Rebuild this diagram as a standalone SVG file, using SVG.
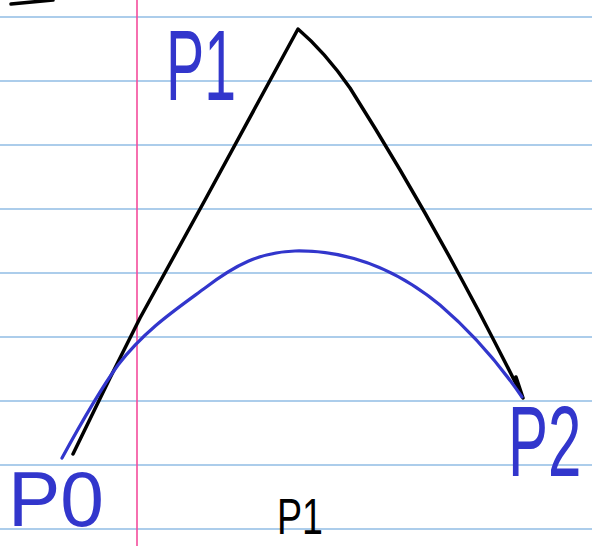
<svg xmlns="http://www.w3.org/2000/svg" width="592" height="546" viewBox="0 0 592 546">
<style>
.rule{stroke:#5b9bd8;stroke-width:1.2}
.margin{stroke:#f44c9c;stroke-width:1.6}
.ink{fill:none;stroke:#000;stroke-width:3.5;stroke-linecap:round;stroke-linejoin:round}
.blue{fill:none;stroke:#3236cc;stroke-width:3.2;stroke-linecap:round;stroke-linejoin:round}
.lb{font-family:"Liberation Sans",Arial,sans-serif;fill:#3236cc}
.lk{font-family:"Liberation Sans",Arial,sans-serif;fill:#000}
</style>
<rect width="592" height="546" fill="#fff"/>
<g id="paper">
<line class="rule" x1="0" y1="17" x2="592" y2="17"/>
<line class="rule" x1="0" y1="81" x2="592" y2="81"/>
<line class="rule" x1="0" y1="145" x2="592" y2="145"/>
<line class="rule" x1="0" y1="209" x2="592" y2="209"/>
<line class="rule" x1="0" y1="273" x2="592" y2="273"/>
<line class="rule" x1="0" y1="337" x2="592" y2="337"/>
<line class="rule" x1="0" y1="401" x2="592" y2="401"/>
<line class="rule" x1="0" y1="465" x2="592" y2="465"/>
<line class="rule" x1="0" y1="529" x2="592" y2="529"/>
<line class="margin" x1="137" y1="0" x2="137" y2="546"/>
</g>
<g id="connectors">
<path class="ink" d="M11 4 L53 0"/>
<path class="ink" d="M73 454 L110 378 L140 318 L205 200 L298 29 Q325 52 350 88 Q440 230 523 398 L516 377"/>
<path class="blue" d="M62 458 C80 425 100 390 118 365 C145 330 175 310 205 288 C235 265 260 252 295 251 C345 250 395 268 440 305 C475 335 500 365 522 397"/>
</g>
<g id="label-p1-blue"><text class="lb" x="166" y="100" font-size="100" textLength="70" lengthAdjust="spacingAndGlyphs">P1</text></g>
<g id="label-p0"><text class="lb" x="8" y="526" font-size="78" textLength="96" lengthAdjust="spacingAndGlyphs">P0</text></g>
<g id="label-p2"><text class="lb" transform="translate(508,476) scale(0.6,1)" font-size="100">P2</text></g>
<g id="label-p1-black"><text class="lk" x="277" y="534" font-size="50" textLength="46" lengthAdjust="spacingAndGlyphs">P1</text></g>
</svg>
